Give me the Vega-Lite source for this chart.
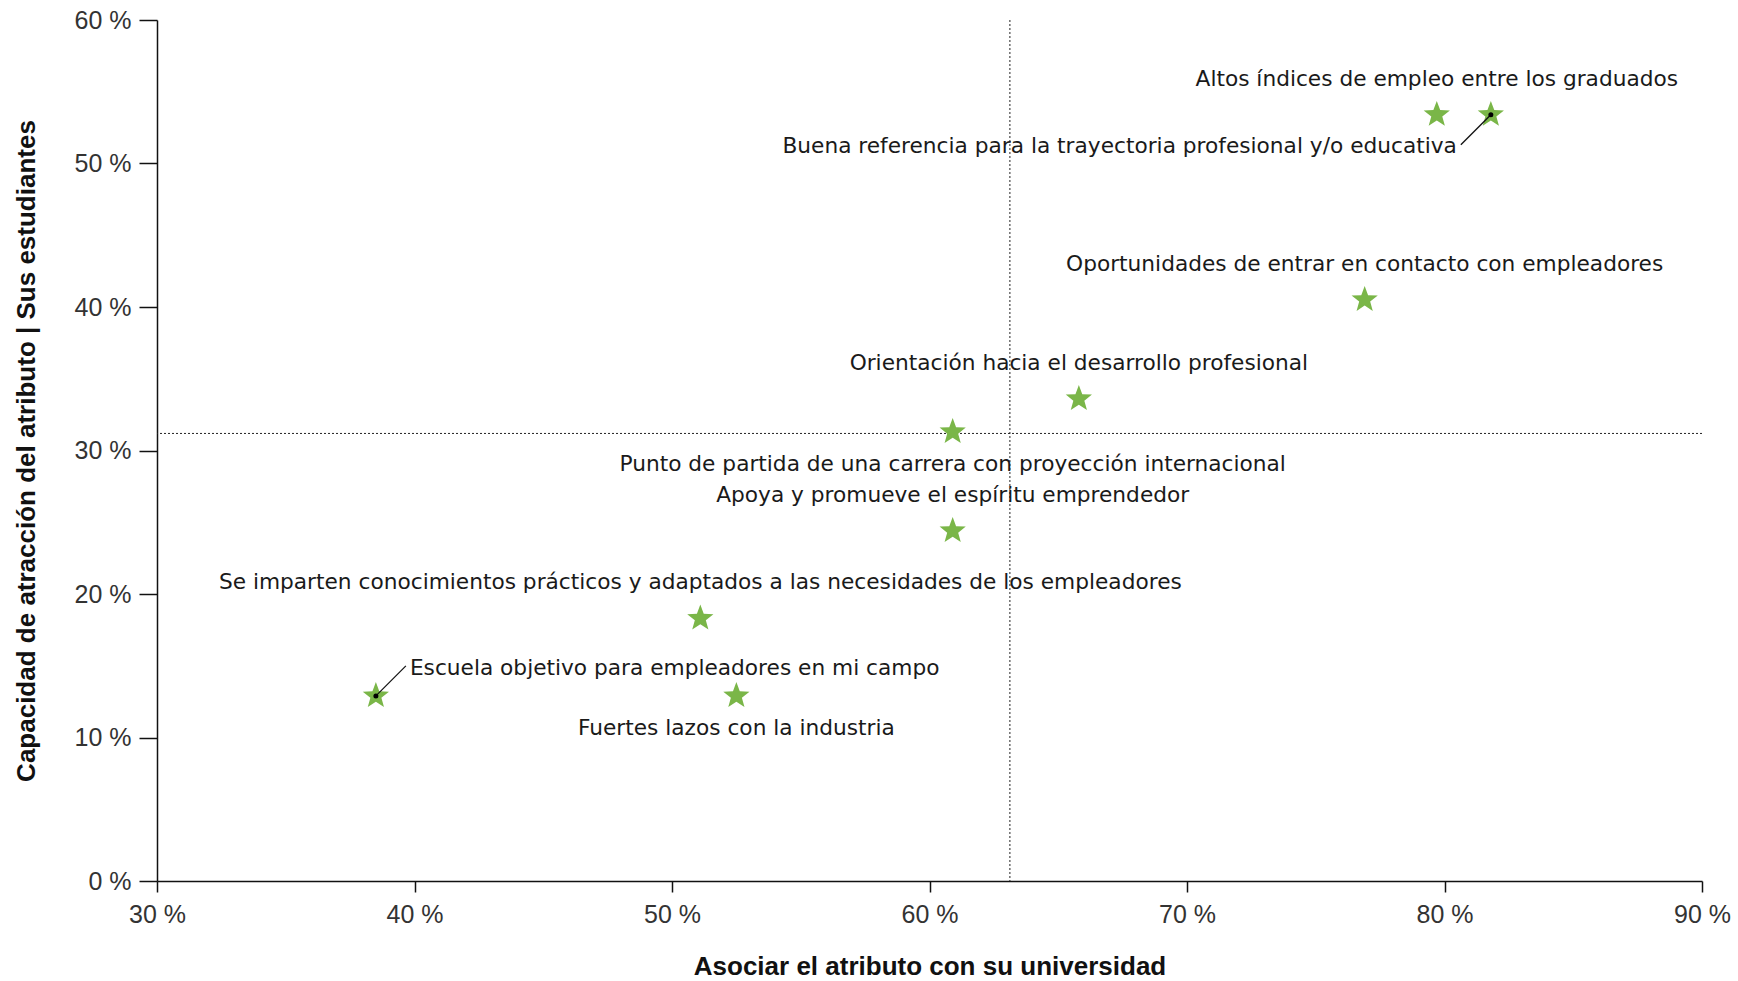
{
  "$schema": "https://vega.github.io/schema/vega-lite/v6.json",
  "width": 1545,
  "height": 861,
  "autosize": {"type": "none"},
  "padding": {"left": 157, "top": 20, "right": 36, "bottom": 100},
  "background": "#ffffff",
  "config": {"view": {"stroke": null}, "axis": {"grid": false}},
  "data": {
    "values": [
      {"attr": "Altos índices de empleo entre los graduados", "asociar": 79.7, "atraccion": 53.4},
      {"attr": "Buena referencia para la trayectoria profesional y/o educativa", "asociar": 81.8, "atraccion": 53.4},
      {"attr": "Oportunidades de entrar en contacto con empleadores", "asociar": 76.9, "atraccion": 40.5},
      {"attr": "Orientación hacia el desarrollo profesional", "asociar": 65.8, "atraccion": 33.6},
      {"attr": "Punto de partida de una carrera con proyección internacional", "asociar": 60.9, "atraccion": 31.3},
      {"attr": "Apoya y promueve el espíritu emprendedor", "asociar": 60.9, "atraccion": 24.4},
      {"attr": "Se imparten conocimientos prácticos y adaptados a las necesidades de los empleadores", "asociar": 51.1, "atraccion": 18.3},
      {"attr": "Escuela objetivo para empleadores en mi campo", "asociar": 38.5, "atraccion": 12.9},
      {"attr": "Fuertes lazos con la industria", "asociar": 52.5, "atraccion": 12.9}
    ]
  },
  "layer": [
    {
      "mark": {"type": "rule", "strokeDash": [2, 2], "color": "#222222", "strokeWidth": 1},
      "encoding": {
        "x": {"aggregate": "mean", "field": "asociar", "type": "quantitative", "title": "Asociar el atributo con su universidad", "scale": {"domain": [30, 90], "nice": false, "zero": false}}
      }
    },
    {
      "mark": {"type": "rule", "strokeDash": [2, 2], "color": "#222222", "strokeWidth": 1},
      "encoding": {
        "y": {"aggregate": "mean", "field": "atraccion", "type": "quantitative", "title": "Capacidad de atracción del atributo | Sus estudiantes", "scale": {"domain": [0, 60], "nice": false, "zero": true}}
      }
    },
    {
      "mark": {"type": "point", "shape": "M0,-1L0.247,-0.34L0.951,-0.309L0.399,0.13L0.588,0.809L0,0.42L-0.588,0.809L-0.399,0.13L-0.951,-0.309L-0.247,-0.34Z", "filled": true, "color": "#7AB648", "size": 760, "opacity": 1},
      "encoding": {
        "x": {
          "field": "asociar", "type": "quantitative",
          "title": "Asociar el atributo con su universidad",
          "scale": {"domain": [30, 90], "nice": false, "zero": false},
          "axis": {
            "values": [30, 40, 50, 60, 70, 80, 90],
            "labelExpr": "datum.value + ' %'",
            "labelFlush": false,
            "labelOverlap": false,
            "tickSize": 11,
            "labelPadding": 10,
            "labelFont": "Liberation Sans",
            "labelFontSize": 25,
            "labelColor": "#333333",
            "domainColor": "#111111",
            "tickColor": "#111111",
            "domainWidth": 1.5,
            "tickWidth": 1.5,
            "titleFont": "Liberation Sans",
            "titleFontSize": 26,
            "titleFontWeight": "bold",
            "titleColor": "#111111",
            "titleBaseline": "alphabetic",
            "titleX": 772.5,
            "titleY": 93
          }
        },
        "y": {
          "field": "atraccion", "type": "quantitative",
          "title": "Capacidad de atracción del atributo | Sus estudiantes",
          "scale": {"domain": [0, 60], "nice": false, "zero": true},
          "axis": {
            "values": [0, 10, 20, 30, 40, 50, 60],
            "labelExpr": "datum.value + ' %'",
            "labelFlush": false,
            "labelOverlap": false,
            "tickSize": 18,
            "labelPadding": 8,
            "labelFont": "Liberation Sans",
            "labelFontSize": 25,
            "labelColor": "#333333",
            "domainColor": "#111111",
            "tickColor": "#111111",
            "domainWidth": 1.5,
            "tickWidth": 1.5,
            "titleFont": "Liberation Sans",
            "titleFontSize": 26,
            "titleFontWeight": "bold",
            "titleColor": "#111111",
            "titleAngle": 270,
            "titleAlign": "center",
            "titleBaseline": "alphabetic",
            "titleX": -123,
            "titleY": 430.5
          }
        }
      }
    },
    {
      "transform": [{"filter": {"field": "attr", "equal": "Escuela objetivo para empleadores en mi campo"}}],
      "mark": {"type": "point", "shape": "M0,0L1,-1", "filled": false, "stroke": "#111111", "strokeWidth": 1.3, "size": 3600, "opacity": 1},
      "encoding": {
        "x": {"field": "asociar", "type": "quantitative"},
        "y": {"field": "atraccion", "type": "quantitative"}
      }
    },
    {
      "transform": [{"filter": {"field": "attr", "equal": "Buena referencia para la trayectoria profesional y/o educativa"}}],
      "mark": {"type": "point", "shape": "M0,0L-1,1", "filled": false, "stroke": "#111111", "strokeWidth": 1.3, "size": 3600, "opacity": 1},
      "encoding": {
        "x": {"field": "asociar", "type": "quantitative"},
        "y": {"field": "atraccion", "type": "quantitative"}
      }
    },
    {
      "transform": [{"filter": {"field": "attr", "oneOf": ["Escuela objetivo para empleadores en mi campo", "Buena referencia para la trayectoria profesional y/o educativa"]}}],
      "mark": {"type": "point", "shape": "circle", "filled": true, "color": "#000000", "size": 25, "opacity": 1},
      "encoding": {
        "x": {"field": "asociar", "type": "quantitative"},
        "y": {"field": "atraccion", "type": "quantitative"}
      }
    },
    {
      "transform": [{"filter": {"field": "attr", "oneOf": [
        "Altos índices de empleo entre los graduados",
        "Oportunidades de entrar en contacto con empleadores",
        "Orientación hacia el desarrollo profesional",
        "Apoya y promueve el espíritu emprendedor",
        "Se imparten conocimientos prácticos y adaptados a las necesidades de los empleadores"
      ]}}],
      "mark": {"type": "text", "font": "DejaVu Sans", "fontSize": 21.7, "color": "#1a1a1a", "align": "center", "baseline": "alphabetic", "dy": -29},
      "encoding": {
        "x": {"field": "asociar", "type": "quantitative"},
        "y": {"field": "atraccion", "type": "quantitative"},
        "text": {"field": "attr"}
      }
    },
    {
      "transform": [{"filter": {"field": "attr", "oneOf": [
        "Punto de partida de una carrera con proyección internacional",
        "Fuertes lazos con la industria"
      ]}}],
      "mark": {"type": "text", "font": "DejaVu Sans", "fontSize": 21.7, "color": "#1a1a1a", "align": "center", "baseline": "alphabetic", "dy": 39},
      "encoding": {
        "x": {"field": "asociar", "type": "quantitative"},
        "y": {"field": "atraccion", "type": "quantitative"},
        "text": {"field": "attr"}
      }
    },
    {
      "transform": [{"filter": {"field": "attr", "equal": "Buena referencia para la trayectoria profesional y/o educativa"}}],
      "mark": {"type": "text", "font": "DejaVu Sans", "fontSize": 21.7, "color": "#1a1a1a", "align": "right", "baseline": "alphabetic", "dx": -34, "dy": 38},
      "encoding": {
        "x": {"field": "asociar", "type": "quantitative"},
        "y": {"field": "atraccion", "type": "quantitative"},
        "text": {"field": "attr"}
      }
    },
    {
      "transform": [{"filter": {"field": "attr", "equal": "Escuela objetivo para empleadores en mi campo"}}],
      "mark": {"type": "text", "font": "DejaVu Sans", "fontSize": 21.7, "color": "#1a1a1a", "align": "left", "baseline": "alphabetic", "dx": 34, "dy": -21},
      "encoding": {
        "x": {"field": "asociar", "type": "quantitative"},
        "y": {"field": "atraccion", "type": "quantitative"},
        "text": {"field": "attr"}
      }
    }
  ]
}
